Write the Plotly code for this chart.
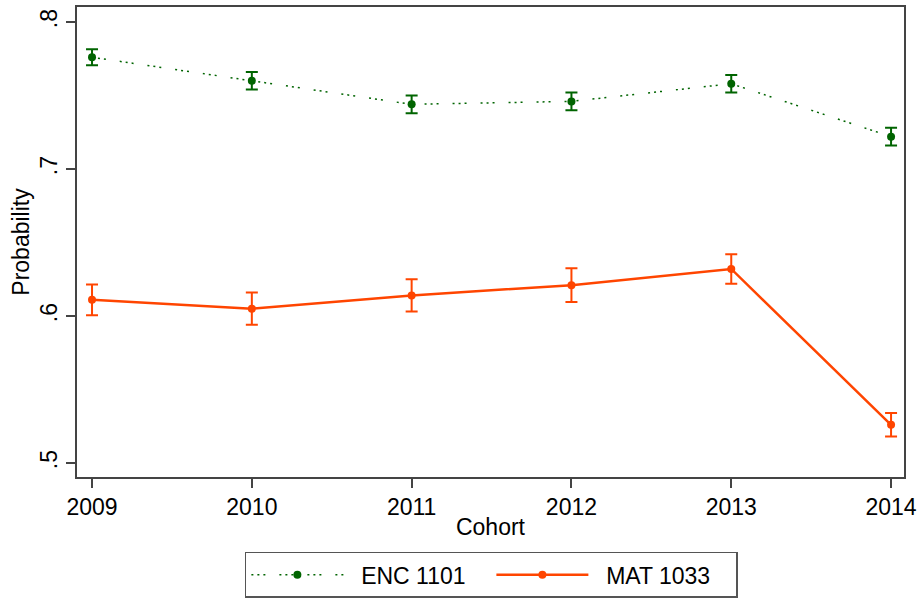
import plotly.graph_objects as go

# Cohort years and predicted probabilities with CI half-widths
cohorts = [2009, 2010, 2011, 2012, 2013, 2014]
enc_prob = [0.776, 0.760, 0.744, 0.746, 0.758, 0.722]
enc_err = [0.0055, 0.006, 0.006, 0.006, 0.006, 0.006]
mat_prob = [0.611, 0.605, 0.614, 0.621, 0.632, 0.526]
mat_err = [0.0105, 0.011, 0.011, 0.0115, 0.010, 0.008]
ytick_vals = [0.5, 0.6, 0.7, 0.8]
ytick_text = [".5", ".6", ".7", ".8"]

GREEN = "#006400"
ORANGE = "#FF4500"
FONT = "Liberation Sans, Arial, sans-serif"
PAD = "\u00a0\u00a0"

fig = go.Figure()

fig.add_trace(go.Scatter(
    x=cohorts, y=enc_prob, name=PAD + "ENC 1101",
    mode="lines+markers",
    line=dict(color=GREEN, width=1.5, dash="2px,4px,2px,4px,2px,14px"),
    marker=dict(color=GREEN, size=8),
    error_y=dict(type="data", array=enc_err, color=GREEN, thickness=2, width=6),
))

fig.add_trace(go.Scatter(
    x=cohorts, y=mat_prob, name=PAD + "MAT 1033",
    mode="lines+markers",
    line=dict(color=ORANGE, width=2.5),
    marker=dict(color=ORANGE, size=8),
    error_y=dict(type="data", array=mat_err, color=ORANGE, thickness=2, width=6),
))

axis_common = dict(
    showline=True, linecolor="#444", linewidth=1.5, mirror=True,
    showgrid=False, zeroline=False, automargin=False,
    ticks="outside", ticklen=9, tickcolor="#444", tickwidth=1.5,
    tickfont=dict(size=23, color="black", family=FONT),
)

fig.update_xaxes(
    range=[2008.906, 2014.081],
    tickvals=cohorts,
    title=dict(text="Cohort", font=dict(size=23, color="black", family=FONT), standoff=0),
    **axis_common,
)
fig.update_yaxes(
    range=[0.4905, 0.8102],
    tickvals=ytick_vals, ticktext=ytick_text, tickangle=-90,
    title=dict(text="Probability", font=dict(size=23, color="black", family=FONT), standoff=0),
    **axis_common,
)

fig.update_layout(
    width=919, height=599,
    margin=dict(l=77, r=15, t=7, b=122),
    plot_bgcolor="white", paper_bgcolor="white",
    font=dict(family=FONT, size=23, color="black"),
    legend=dict(
        orientation="h", x=0.203, xanchor="left",
        yref="container", y=0.002, yanchor="bottom",
        bordercolor="#555", borderwidth=1.5, itemwidth=92, entrywidth=138,
        font=dict(size=23, color="black", family=FONT),
    ),
)

fig.write_html("out.html", config={"displayModeBar": False},
               post_script="document.body.style.margin='0';")
